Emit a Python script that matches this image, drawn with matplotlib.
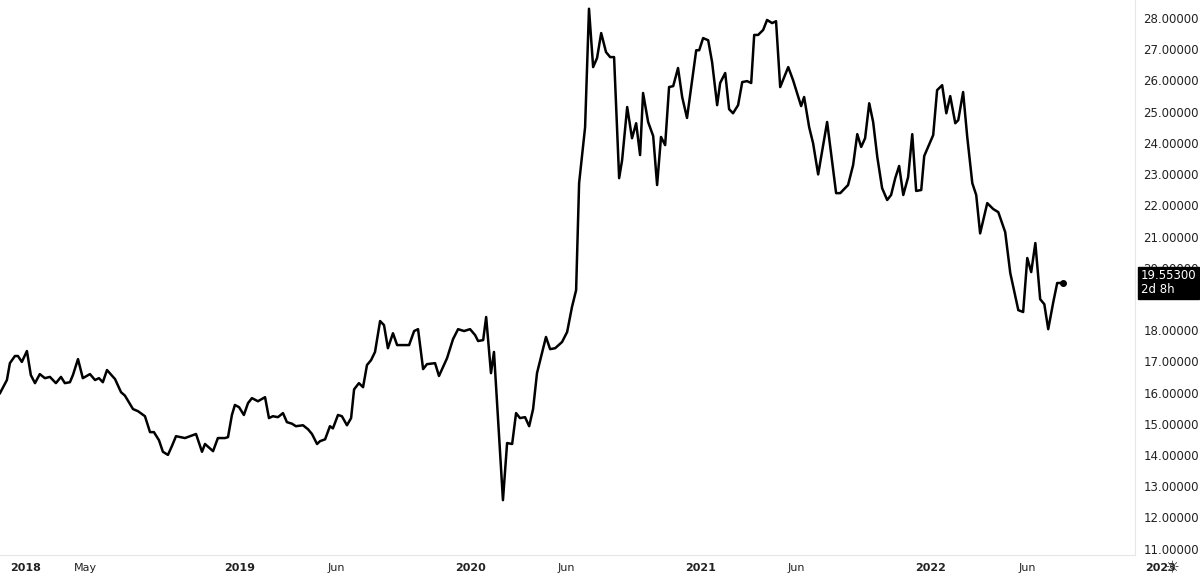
#Precio semanal - grafica de linea estilo TradingView
import matplotlib.pyplot as plt
import matplotlib.transforms as mtransforms
import numpy as np

#tiempo en anios desde 2018 (decimal) y precio
anios = [-0.043, -0.013, 0.0, 0.022, 0.035, 0.052, 0.074, 0.091, 0.109, 0.130, 0.152, 0.174, 0.200, 0.222,
         0.239, 0.261, 0.274, 0.296, 0.317, 0.348, 0.370, 0.387, 0.404, 0.422, 0.457, 0.483, 0.500, 0.535,
         0.557, 0.587, 0.609, 0.626, 0.648, 0.665, 0.687, 0.704, 0.722, 0.761, 0.783, 0.809, 0.835, 0.848,
         0.883, 0.904, 0.935, 0.948, 0.965, 0.978, 0.996, 1.017, 1.035, 1.052, 1.078, 1.109, 1.126, 1.143,
         1.165, 1.187, 1.204, 1.226, 1.243, 1.274, 1.296, 1.313, 1.335, 1.348, 1.370, 1.391, 1.404, 1.426,
         1.443, 1.465, 1.483, 1.496, 1.517, 1.535, 1.552, 1.570, 1.587, 1.609, 1.626, 1.643, 1.665, 1.683,
         1.735, 1.757, 1.774, 1.796, 1.813, 1.848, 1.865, 1.900, 1.926, 1.948, 1.974, 2.000, 2.022, 2.035,
         2.057, 2.070, 2.091, 2.104, 2.143, 2.161, 2.183, 2.200, 2.217, 2.239, 2.257, 2.274, 2.291, 2.330,
         2.348, 2.370, 2.400, 2.422, 2.443, 2.461, 2.474, 2.500, 2.517, 2.535, 2.552, 2.570, 2.591, 2.609,
         2.626, 2.648, 2.661, 2.683, 2.704, 2.722, 2.739, 2.752, 2.774, 2.796, 2.813, 2.830, 2.848, 2.865,
         2.883, 2.904, 2.922, 2.943, 2.983, 2.996, 3.013, 3.035, 3.052, 3.074, 3.087, 3.109, 3.126, 3.143,
         3.165, 3.183, 3.204, 3.222, 3.235, 3.252, 3.274, 3.291, 3.313, 3.330, 3.348, 3.383, 3.404, 3.439,
         3.452, 3.474, 3.491, 3.513, 3.552, 3.591, 3.609, 3.643, 3.665, 3.683, 3.700, 3.717, 3.735, 3.752,
         3.770, 3.791, 3.813, 3.830, 3.848, 3.865, 3.883, 3.904, 3.922, 3.939, 3.961, 3.974, 3.991, 4.013,
         4.030, 4.052, 4.070, 4.087, 4.109, 4.122, 4.143, 4.161, 4.183, 4.200, 4.217, 4.248, 4.274, 4.296,
         4.326, 4.348, 4.383, 4.404, 4.422, 4.439, 4.457, 4.478, 4.496, 4.513, 4.535, 4.552, 4.578]
precio = [15.98, 16.4, 16.94, 17.17, 17.17, 16.98, 17.33, 16.56, 16.3, 16.59, 16.46, 16.5, 16.3, 16.5,
          16.3, 16.33, 16.56, 17.07, 16.46, 16.59, 16.4, 16.46, 16.33, 16.72, 16.43, 16.01, 15.9, 15.47,
          15.4, 15.24, 14.73, 14.73, 14.47, 14.1, 14.0, 14.28, 14.6, 14.54, 14.6, 14.67, 14.1, 14.35,
          14.12, 14.54, 14.54, 14.57, 15.28, 15.6, 15.53, 15.28, 15.66, 15.82, 15.72, 15.85, 15.18, 15.24,
          15.21, 15.34, 15.05, 15.0, 14.92, 14.95, 14.82, 14.67, 14.35, 14.44, 14.5, 14.92, 14.85, 15.28,
          15.24, 14.95, 15.18, 16.1, 16.3, 16.17, 16.88, 17.04, 17.3, 18.29, 18.16, 17.42, 17.9, 17.52,
          17.52, 17.97, 18.03, 16.75, 16.91, 16.94, 16.53, 17.1, 17.71, 18.03, 17.97, 18.03, 17.84, 17.65,
          17.68, 18.42, 16.62, 17.3, 12.55, 14.38, 14.35, 15.34, 15.18, 15.21, 14.92, 15.47, 16.62, 17.78,
          17.39, 17.42, 17.62, 17.94, 18.74, 19.28, 22.71, 24.5, 28.3, 26.43, 26.72, 27.52, 26.91, 26.75,
          26.75, 22.87, 23.45, 25.15, 24.15, 24.63, 23.61, 25.6, 24.67, 24.22, 22.65, 24.19, 23.93, 25.79,
          25.82, 26.4, 25.47, 24.8, 26.97, 26.97, 27.36, 27.29, 26.59, 25.21, 25.92, 26.24, 25.08, 24.95,
          25.21, 25.95, 25.98, 25.92, 27.46, 27.46, 27.62, 27.94, 27.84, 27.9, 25.79, 26.43, 26.01, 25.18,
          25.47, 24.5, 23.99, 22.99, 24.67, 22.39, 22.39, 22.65, 23.29, 24.28, 23.87, 24.15, 25.27, 24.67,
          23.55, 22.55, 22.17, 22.33, 22.87, 23.26, 22.33, 22.9, 24.28, 22.46, 22.49, 23.58, 23.87, 24.25,
          25.69, 25.85, 24.95, 25.5, 24.63, 24.73, 25.63, 24.19, 22.71, 22.33, 21.1, 22.07, 21.88, 21.78,
          21.14, 19.83, 18.64, 18.58, 20.31, 19.86, 20.79, 18.99, 18.83, 18.03, 18.9, 19.51, 19.51]

etiquetas_x = ["2018", "May", "2019", "Jun", "2020", "Jun", "2021", "Jun", "2022", "Jun", "2023"]
pos_x = [0.0, 0.33, 1.0, 1.42, 2.0, 2.42, 3.0, 3.42, 4.0, 4.42, 5.0]
ticks_y = np.arange(11, 29)
ultimo = "19.55300"

t = 2018 + np.array(anios)
fig = plt.figure(figsize=(12, 5.8), dpi=100)
ax = fig.add_axes([0, 0.043, 0.946, 0.957])
ax.plot(t, precio, color='black', lw=1.8)
ax.plot(t[-1], precio[-1], 'o', color='black', ms=4)

ax.yaxis.tick_right()
ax.set_yticks(ticks_y)
#la etiqueta de 19 queda tapada por la caja del ultimo precio
ax.set_yticklabels(["" if v == 19 else f"{v:.5f}" for v in ticks_y], fontsize=8.5, color='#222222')
ax.set_xticks([])
ax.tick_params(length=0, pad=6)
ax.set_xlim(2017.957, 2022.891)
ax.set_ylim(10.79, 28.58)

#etiquetas de fechas (la de 2023 cae fuera del area)
trans = mtransforms.blended_transform_factory(ax.transData, fig.transFigure)
for p, txt in zip(pos_x, etiquetas_x):
    ax.text(2018 + p, 0.02, txt, transform=trans, fontsize=8, color='#222222',
            ha='left' if p == 0 else 'center', va='center',
            fontweight='bold' if txt.isdigit() else 'normal', clip_on=False)

for s in ['top', 'left']:
    ax.spines[s].set_visible(False)
ax.spines['right'].set_color('#e6e6e6')
ax.spines['bottom'].set_color('#e6e6e6')

#etiqueta del ultimo precio
ax.annotate(ultimo + "\n2d 8h", xy=(1.0, precio[-1]), xycoords=('axes fraction', 'data'),
            xytext=(4, 0), textcoords='offset points', va='center', ha='left',
            fontsize=8.5, color='white', linespacing=1.1,
            bbox=dict(boxstyle='square,pad=0.25', fc='black', ec='black'))
fig.text(0.977, 0.02, "☼", fontsize=12, color='#333333', ha='center', va='center')

plt.savefig("out.png")
